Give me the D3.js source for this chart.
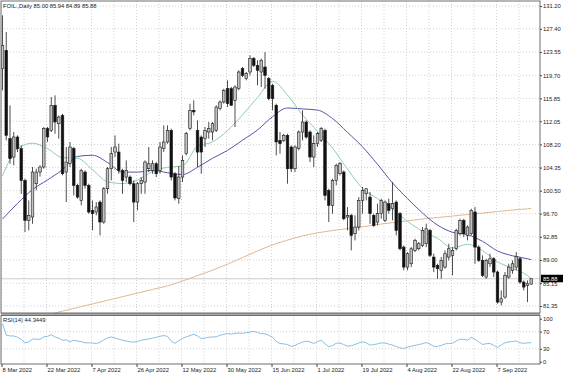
<!DOCTYPE html>
<html>
<head>
<meta charset="utf-8">
<script src="https://cdn.jsdelivr.net/npm/d3@7"></script>
<style>
  body { margin: 0; background: #fff; }
  svg { display: block; }
  text { font-family: "Liberation Sans", Arial, sans-serif; }
</style>
</head>
<body>
<svg id="chart" width="564" height="376"></svg>
<script>
// daily candles, bar 0 = 8 Mar 2022
const opens = [120.78,123.83,109.15,106.1,109.43,107.49,102.22,95.58,96.13,101.67,
  103.61,104.44,110.81,110.53,114.69,111.64,113.03,103.61,105.0,107.49,
  101.39,98.9,103.61,101.39,97.24,96.96,98.62,95.3,100.84,104.16,
  106.93,106.93,103.89,102.78,102.78,101.67,98.62,101.67,101.95,104.16,
  103.89,104.99,103.89,107.49,108.6,110.53,103.3,99.2,102.78,106.66,
  110.81,113.86,110.53,109.42,109.15,110.26,110.26,110.53,114.14,115.24,
  117.46,117.46,115.52,117.46,120.78,119.12,120.23,122.45,121.34,120.23,
  121.06,119.12,118.01,114.69,108.87,108.87,109.7,107.77,104.16,107.49,
  110.26,111.92,110.26,106.1,108.32,108.87,110.53,100.56,98.07,102.22,
  103.33,103.61,96.13,96.41,93.36,94.47,98.9,100.0,99.45,96.41,
  95.3,96.69,95.58,98.35,97.52,98.62,96.69,91.14,87.82,88.37,
  90.59,90.87,91.42,91.7,93.91,89.48,88.1,87.27,87.82,89.48,
  89.76,90.87,93.36,95.58,93.08,93.36,96.96,91.14,88.93,86.16,
  88.37,89.2,86.99,82.0,82.83,86.16,87.27,87.82,89.2,85.33,
  84.77,85.00];
const highs = [129.65,126.88,114.69,110.26,109.7,108.04,102.5,98.9,104.44,104.16,
  104.72,111.09,111.09,116.08,116.35,113.03,113.3,107.77,108.6,107.77,
  101.67,104.16,103.89,101.67,98.9,98.62,98.9,101.12,104.44,107.77,
  109.7,108.32,104.16,105.55,103.06,102.22,101.95,102.78,105.55,107.77,
  105.55,105.27,108.6,111.36,111.36,110.81,103.6,104.6,106.38,110.26,
  114.97,115.52,112.2,109.7,111.09,111.92,111.92,114.69,115.52,117.46,
  118.85,117.74,118.01,120.51,121.06,120.23,123.0,122.72,122.17,122.45,
  123.55,119.4,118.29,114.97,110.26,109.98,109.98,108.04,108.04,110.53,
  113.86,112.2,110.53,109.7,110.26,111.09,110.81,100.84,102.5,105.0,
  105.27,103.89,97.79,96.69,96.41,99.45,101.12,100.84,100.29,96.69,
  98.35,99.18,98.9,99.18,101.95,98.9,96.96,91.42,90.31,91.14,
  92.53,92.0,94.47,95.02,94.19,90.04,88.37,89.48,90.59,91.7,
  91.14,94.19,95.85,95.85,94.75,97.52,97.79,91.42,89.76,89.2,
  90.04,89.48,87.27,83.94,86.99,88.37,88.93,90.31,89.48,85.6,
  85.6,85.94];
const lows = [117.18,108.87,105.0,104.72,106.93,99.99,93.64,93.91,95.02,100.56,
  102.86,104.16,108.6,110.26,109.98,109.15,103.06,98.62,104.44,99.73,
  99.18,98.07,100.84,96.69,93.91,96.41,93.08,95.02,100.0,102.22,
  106.1,103.33,99.99,101.95,101.39,95.3,97.24,99.99,99.99,103.61,
  103.33,102.78,103.33,106.93,108.32,102.22,98.9,98.35,101.95,106.38,
  110.53,113.03,104.44,103.33,107.77,109.15,108.87,110.26,113.86,114.97,
  114.41,114.69,111.09,117.18,119.4,118.85,119.68,121.06,118.01,117.74,
  117.46,115.52,113.86,106.38,106.66,108.6,101.67,103.61,103.61,107.2,
  108.87,109.15,105.27,104.44,107.77,108.6,98.9,95.3,96.69,101.39,
  103.06,95.58,93.91,90.59,92.25,93.91,96.69,98.9,95.02,94.47,
  94.75,95.85,95.3,96.69,95.58,93.08,90.59,87.27,87.27,87.82,
  90.31,90.59,91.14,91.14,89.48,86.99,85.88,85.88,87.54,88.93,
  86.44,90.59,93.08,92.81,92.25,93.08,88.37,88.66,86.16,85.88,
  87.82,86.16,81.73,81.45,82.56,85.88,86.71,87.27,85.05,83.94,
  82.0,84.89];
const closes = [124.66,109.7,105.83,109.43,107.49,102.22,95.58,96.41,103.61,103.61,
  104.44,110.81,109.43,114.69,111.92,112.75,103.33,105.27,107.77,101.39,
  99.45,103.89,101.39,96.96,96.69,97.8,95.3,100.84,104.16,106.66,
  107.77,103.89,102.22,103.89,101.67,98.62,101.67,102.22,105.27,104.99,
  104.99,103.33,107.77,108.6,110.53,102.78,99.3,102.78,105.55,109.98,
  113.86,113.6,106.93,106.93,110.53,110.81,111.64,114.41,115.24,117.18,
  114.97,114.69,117.74,120.23,119.68,119.95,122.45,121.34,120.51,122.17,
  119.68,115.8,115.8,108.6,108.32,109.7,104.16,104.16,107.77,110.26,
  111.92,109.42,106.1,108.32,109.98,110.81,99.73,98.07,102.22,104.72,
  105.0,95.85,96.41,93.08,94.47,98.9,100.56,100.84,96.69,94.75,
  96.69,98.9,98.62,97.24,98.35,93.91,90.87,87.82,90.04,90.87,
  92.25,91.7,93.91,94.19,89.76,87.82,87.54,88.93,90.04,90.87,
  90.59,93.91,95.58,93.36,94.47,97.24,91.14,88.93,86.44,88.93,
  89.2,86.99,82.0,82.56,86.44,87.82,88.37,89.6,85.33,84.5,
  85.05,85.88];

const dateLabels = ["8 Mar 2022","22 Mar 2022","7 Apr 2022","26 Apr 2022","12 May 2022","30 May 2022",
  "15 Jun 2022","1 Jul 2022","19 Jul 2022","4 Aug 2022","22 Aug 2022","7 Sep 2022"];
const priceTicks = [131.20,127.40,123.55,119.70,115.85,112.05,108.20,104.35,100.50,96.70,92.85,89.00,85.15,81.35];
const rsiTicks = [100, 70, 30, 0];

// moving averages, read every 4 bars
const maBars = [0,4,8,12,16,20,24,28,32,36,40,44,48,52,56,60,64,68,72,76,80,84,88,92,96,100,104,108,112,116,120,124,128,132,136,140,141];
const maFast = [103.0,107.5,108.4,107.5,106.0,105.9,104.0,102.0,101.7,102.3,103.7,104.4,104.6,107.9,108.6,110.5,113.1,116.0,118.7,116.4,113.1,110.4,107.6,104.1,100.9,99.2,97.5,95.4,93.8,92.6,91.0,91.6,90.55,88.7,87.6,86.4,85.9];
const maSlow = [95.8,98.4,100.7,102.3,104.0,106.2,106.4,105.2,103.6,103.6,103.9,103.5,103.2,104.4,105.9,107.2,108.9,110.6,112.8,114.25,114.1,113.9,112.5,110.2,107.8,104.9,101.8,99.2,96.8,94.8,93.6,93.2,92.1,90.5,89.7,89.2,89.05];
const maLongBars = [14,16,20,24,28,32,36,40,44,48,52,56,60,64,68,72,76,80,84,88,92,96,100,104,108,112,116,120,124,128,132,136,140,141];
const maLong = [80.2,80.5,81.1,81.7,82.3,82.9,83.5,84.1,84.7,85.5,86.4,87.3,88.3,89.4,90.5,91.5,92.3,93.0,93.5,93.9,94.2,94.5,94.9,95.2,95.5,95.8,96.05,96.3,96.55,96.8,97.05,97.3,97.5,97.55];

const rsiValues = [88,62,60,60,57,52,44,46,53,52.5,
  52,58,59,63,57.6,55,50,51,46.1,50,
  48,47,44,44,43.8,42.4,45,51,55.3,57.6,
  55.3,52.5,50,48.4,46.1,45.5,47,50,51.6,53,
  55,57,59.2,61,59,48,43,49,54,58,
  61,64,60,54,55,57,57.6,58,61.5,64,
  65.4,64.3,66,66.8,66,67.7,69,70.7,68,65.4,
  65,61.5,57,47,42.4,41.5,40,35.5,38,42.4,
  45.5,48,46,42.4,47,50,42,35,38,43,
  43.5,40,36.2,37,40,43.8,46.1,44,38.5,40,
  41.5,43.8,43.8,41,38.5,35.5,32,31,34,36,
  38,40,42,44.7,41,36,35.5,38,41.5,42.4,
  43,48,52.5,52,50,57,52,46.1,40,42,
  42.4,38,33.5,39,44,46,47,48.4,44,43,
  43.8,44.34];

const symbolTitle = "FOIL.,Daily  85.00 85.94 84.89 85.88";
const rsiTitle = "RSI(14) 44.3449";
const lastPrice = 85.88;

const svg = d3.select("#chart");
const L = 1, R = 540;
const mainTop = 1, mainBottom = 313, rsiTop = 315.5, rsiBottom = 364;
const FS = "5.8px";

const bars = d3.range(opens.length);
const x = d3.scaleLinear().domain([0, 141]).range([2.5, 531.25]);
const y = d3.scaleLinear().domain([80.19, 131.86]).range([mainBottom, mainTop + 1]);
const yR = d3.scaleLinear().domain([-5.3, 107.6]).range([rsiBottom, rsiTop]);

const defs = svg.append("defs");
defs.append("clipPath").attr("id", "clip-main")
  .append("rect").attr("x", L).attr("y", mainTop).attr("width", R - L).attr("height", mainBottom - mainTop);
defs.append("clipPath").attr("id", "clip-rsi")
  .append("rect").attr("x", L).attr("y", rsiTop).attr("width", R - L).attr("height", rsiBottom - rsiTop);

// grid
const grid = svg.append("g").attr("stroke", "#c6c6c6").attr("stroke-width", 0.8).attr("stroke-dasharray", "1,2");
const gridBars = d3.range(0, 142, 6);
grid.selectAll(".vg").data(gridBars).join("line")
  .attr("x1", d => x(d) - 1).attr("x2", d => x(d) - 1)
  .attr("y1", mainTop).attr("y2", mainBottom);
grid.selectAll(".vr").data(gridBars).join("line")
  .attr("x1", d => x(d) - 1).attr("x2", d => x(d) - 1)
  .attr("y1", rsiTop).attr("y2", rsiBottom);
grid.selectAll(".hg").data(priceTicks).join("line")
  .attr("x1", L).attr("x2", R)
  .attr("y1", d => y(d)).attr("y2", d => y(d));
grid.selectAll(".hr").data([70, 30]).join("line")
  .attr("x1", L).attr("x2", R)
  .attr("y1", d => yR(d)).attr("y2", d => yR(d));

const main = svg.append("g").attr("clip-path", "url(#clip-main)");

// last price line
main.append("line")
  .attr("x1", L).attr("x2", R)
  .attr("y1", y(lastPrice)).attr("y2", y(lastPrice))
  .attr("stroke", "#c0c0c0").attr("stroke-width", 0.8);

// moving averages
const maLine = d3.line().x(d => x(d[0])).y(d => y(d[1])).curve(d3.curveMonotoneX);
main.append("path").datum(d3.zip(maLongBars, maLong))
  .attr("fill", "none").attr("stroke", "#deb98f").attr("stroke-width", 1).attr("d", maLine);
main.append("path").datum(d3.zip(maBars, maSlow))
  .attr("fill", "none").attr("stroke", "#5656a8").attr("stroke-width", 1).attr("d", maLine);
main.append("path").datum(d3.zip(maBars, maFast))
  .attr("fill", "none").attr("stroke", "#92cbb2").attr("stroke-width", 1).attr("d", maLine);

// candles
const candle = main.selectAll(".candle").data(bars).join("g");
candle.append("line")
  .attr("x1", i => x(i)).attr("x2", i => x(i))
  .attr("y1", i => y(highs[i])).attr("y2", i => y(lows[i]))
  .attr("stroke", "#222").attr("stroke-width", 0.8);
candle.append("rect")
  .attr("x", i => x(i) - 1.3)
  .attr("width", 2.6)
  .attr("y", i => y(Math.max(opens[i], closes[i])))
  .attr("height", i => Math.max(0.8, Math.abs(y(opens[i]) - y(closes[i]))))
  .attr("fill", i => closes[i] >= opens[i] ? "#c2c2c2" : "#111")
  .attr("stroke", "#1a1a1a").attr("stroke-width", 0.6);

// RSI
const rsiLine = d3.line().x((d, i) => x(i)).y(d => yR(d));
svg.append("g").attr("clip-path", "url(#clip-rsi)")
  .append("path").datum(rsiValues)
  .attr("fill", "none").attr("stroke", "#86bfe6").attr("stroke-width", 1).attr("d", rsiLine);

// panel frames
svg.append("rect").attr("x", L).attr("y", mainTop).attr("width", R - L).attr("height", mainBottom - mainTop)
  .attr("fill", "none").attr("stroke", "#6e6e6e").attr("stroke-width", 1);
svg.append("rect").attr("x", L).attr("y", rsiTop).attr("width", R - L).attr("height", rsiBottom - rsiTop)
  .attr("fill", "none").attr("stroke", "#6e6e6e").attr("stroke-width", 1);
svg.append("line").attr("x1", L).attr("x2", R).attr("y1", 314).attr("y2", 314)
  .attr("stroke", "#555").attr("stroke-width", 1.2);

// axes
function styleAxis(g) {
  g.select(".domain").remove();
  g.selectAll("line").attr("stroke", "#444");
  g.selectAll("text").attr("fill", "#222").attr("font-size", FS).attr("font-family", "Liberation Sans, Arial, sans-serif");
}
svg.append("g").attr("transform", `translate(${R},0)`)
  .call(d3.axisRight(y).tickValues(priceTicks).tickFormat(d3.format(".2f")).tickSize(2).tickPadding(1))
  .call(styleAxis);
svg.append("g").attr("transform", `translate(${R},0)`)
  .call(d3.axisRight(yR).tickValues(rsiTicks).tickFormat(d3.format("d")).tickSize(2).tickPadding(1))
  .call(styleAxis);
const xAxis = svg.append("g").attr("transform", `translate(-1,${rsiBottom})`)
  .call(d3.axisBottom(x).tickValues(d3.range(0, 142, 12)).tickFormat((d, i) => dateLabels[i]).tickSize(3).tickPadding(1))
  .call(styleAxis);
xAxis.selectAll("text").attr("text-anchor", "start").attr("x", 0.6);

// last price tag
const tagY = y(lastPrice);
svg.append("rect").attr("x", R + 1).attr("y", tagY - 4).attr("width", 22).attr("height", 7.5).attr("fill", "#000");
svg.append("text").attr("x", R + 3).attr("y", tagY).attr("dy", "0.32em")
  .attr("font-size", FS).attr("fill", "#fff").text(d3.format(".2f")(lastPrice));

// titles
svg.append("text").attr("x", 3).attr("y", 8.3).attr("font-size", FS).attr("fill", "#222").text(symbolTitle);
svg.append("text").attr("x", 3).attr("y", 321.8).attr("font-size", FS).attr("fill", "#222").text(rsiTitle);
</script>
</body>
</html>
